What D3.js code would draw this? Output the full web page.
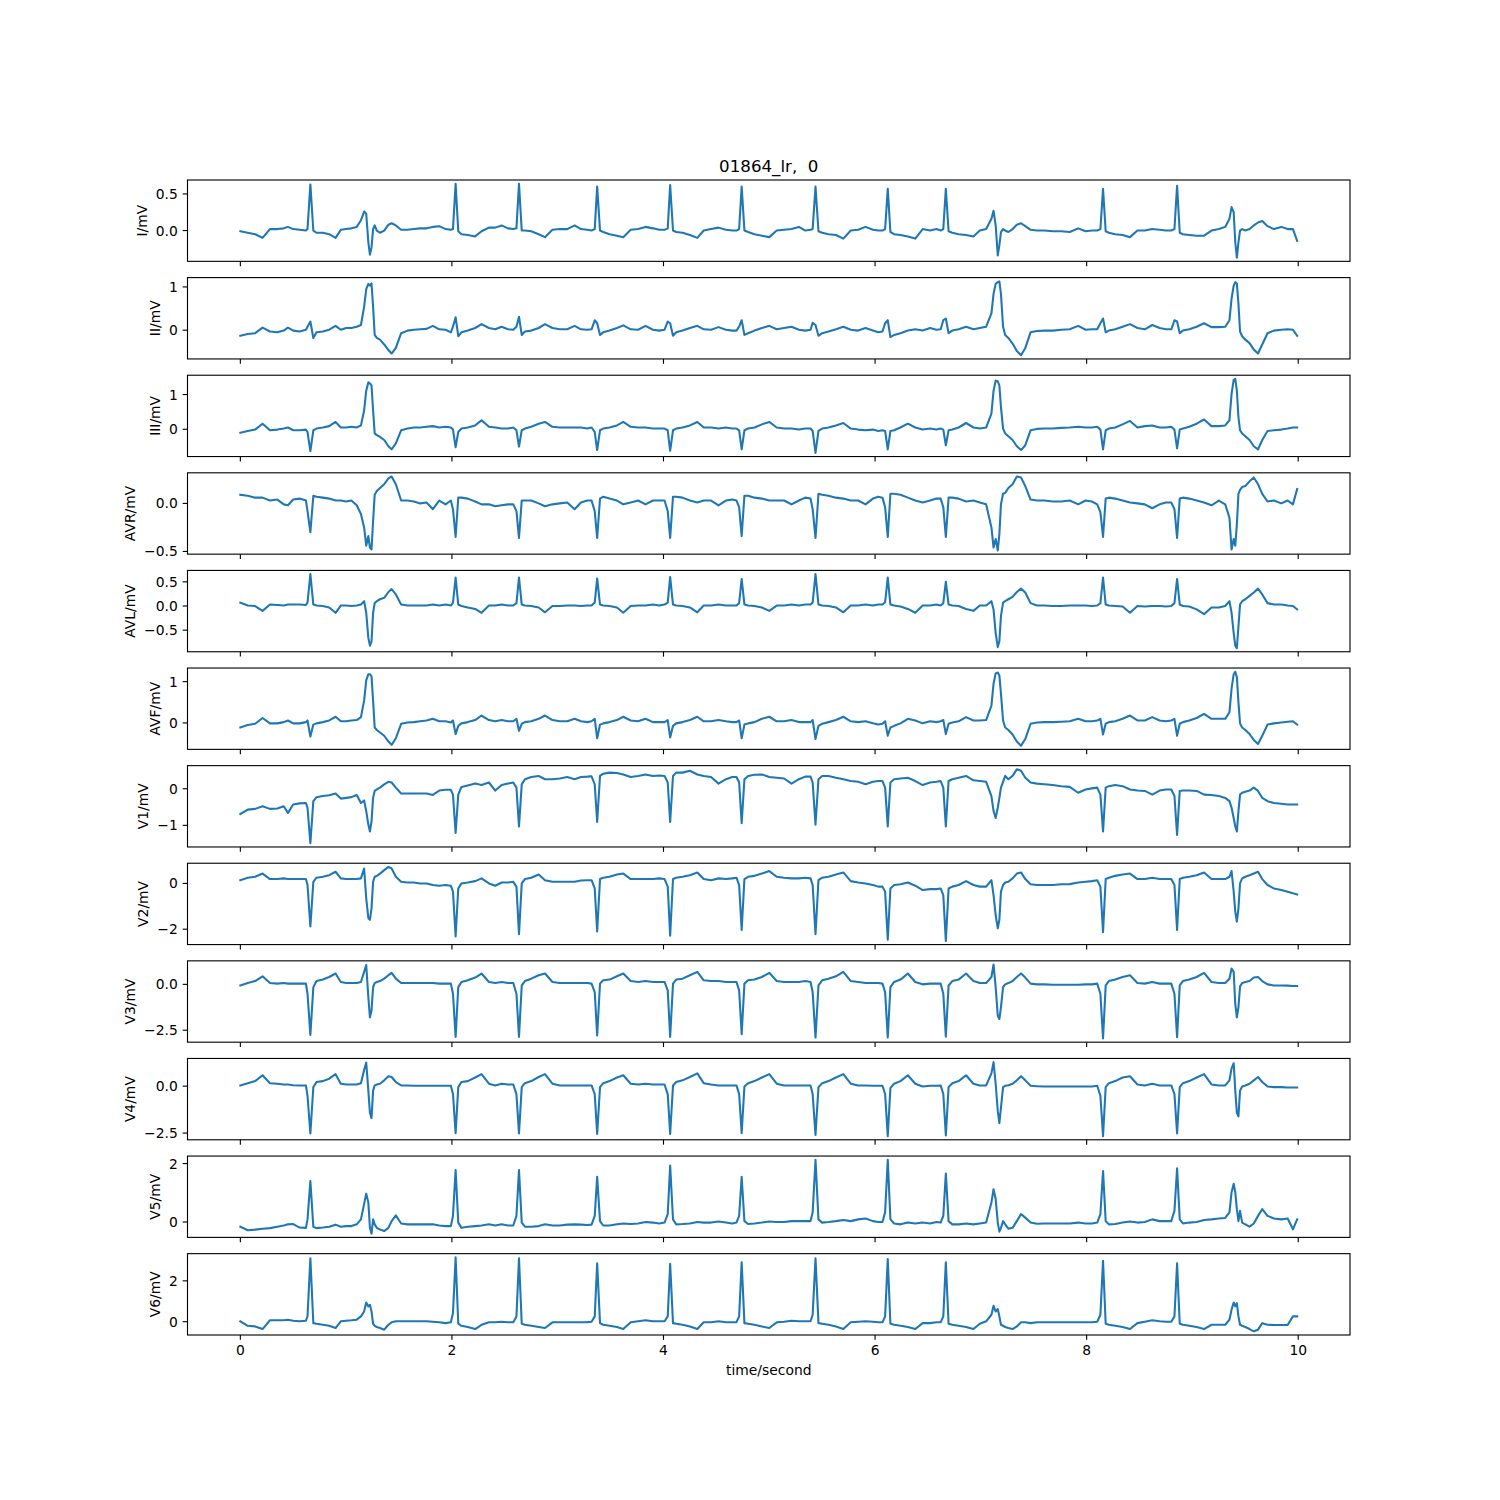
<!DOCTYPE html>
<html><head><meta charset="utf-8">
<script src="https://cdn.jsdelivr.net/npm/d3@7"></script>
<style>body{margin:0;background:#fff}svg{display:block}</style>
</head><body>
<svg id="chart" width="1500" height="1500"></svg>
<script>
// ---------- data (seconds / mV) ----------
const time = [
0.00,0.07,0.14,0.21,0.28,0.35,0.41,0.45,0.50,0.56,0.62,
0.635,0.662,0.69,0.72,
0.78,0.84,0.90,0.95,1.00,1.05,1.10,1.14,1.17,
1.19,1.21,1.225,1.24,1.255,1.27,1.29,1.32,1.36,1.40,1.43,1.47,1.52,
1.58,1.64,1.70,1.76,1.82,1.88,1.94,1.99,
2.01,2.035,2.06,2.09,
2.15,2.22,2.28,2.35,2.41,2.47,2.53,2.58,
2.61,2.634,2.66,2.69,
2.75,2.82,2.88,2.95,3.02,3.09,3.16,3.22,3.28,3.32,
3.35,3.373,3.40,3.43,
3.49,3.56,3.62,3.69,3.76,3.83,3.90,3.96,4.01,
4.04,4.063,4.09,4.12,
4.18,4.25,4.32,4.38,4.45,4.52,4.59,4.65,4.69,
4.715,4.739,4.765,4.80,
4.86,4.93,5.00,5.07,5.14,5.21,5.28,5.34,5.39,
5.41,5.437,5.465,5.50,
5.56,5.63,5.70,5.77,5.84,5.91,5.98,6.03,6.07,
6.095,6.12,6.145,6.18,
6.24,6.31,6.38,6.45,6.52,6.58,6.62,
6.645,6.669,6.695,6.73,
6.79,6.86,6.93,6.99,7.05,7.10,
7.12,7.14,7.16,7.175,7.19,7.21,7.23,7.26,7.30,7.34,7.38,7.42,7.47,
7.53,7.60,7.68,7.76,7.84,7.92,7.99,8.05,8.10,
8.13,8.155,8.18,8.21,
8.27,8.34,8.41,8.48,8.55,8.62,8.69,8.75,8.80,
8.83,8.855,8.88,8.91,
8.97,9.04,9.11,9.18,9.25,9.31,9.35,
9.37,9.39,9.405,9.42,9.435,9.45,9.47,9.50,9.54,9.58,9.62,9.66,9.71,
9.77,9.84,9.90,9.95,9.99
];

const leadI = [
-0.01,-0.03,-0.05,-0.10,0.02,0.02,0.03,0.05,0.02,0.01,0.00,
0.02,0.63,0.00,-0.03,
-0.03,-0.05,-0.10,0.01,0.02,0.03,0.05,0.14,0.26,
0.23,-0.16,-0.33,-0.23,0.02,0.07,0.00,-0.03,0.00,0.08,0.10,0.07,0.01,
0.01,0.02,0.03,0.03,0.05,0.06,0.02,0.01,
0.02,0.64,-0.01,-0.05,
-0.06,-0.08,-0.01,0.04,0.04,0.07,0.03,0.02,
0.03,0.64,0.00,0.00,
-0.01,-0.05,-0.09,0.01,0.02,0.02,0.07,0.02,0.01,0.00,
0.02,0.60,0.00,-0.02,
-0.05,-0.07,-0.09,0.01,0.02,0.05,0.03,0.01,0.01,
0.03,0.62,0.00,-0.02,
-0.03,-0.06,-0.10,0.00,0.02,0.04,0.01,0.00,0.00,
0.02,0.60,0.00,-0.02,
-0.05,-0.07,-0.09,0.00,0.01,0.02,0.05,0.00,0.01,
0.02,0.60,-0.01,-0.03,
-0.05,-0.06,-0.11,0.00,0.01,0.05,0.01,0.00,0.00,
0.02,0.57,-0.02,-0.05,
-0.06,-0.08,-0.11,0.02,0.00,0.02,0.00,
0.02,0.57,-0.01,-0.03,
-0.05,-0.06,-0.08,0.00,0.02,0.16,
0.27,0.07,-0.34,-0.20,-0.02,0.02,0.00,-0.02,0.02,0.08,0.10,0.06,0.01,
0.00,0.00,-0.01,-0.01,-0.02,0.03,-0.01,0.00,0.00,
0.02,0.57,-0.01,-0.03,
-0.05,-0.06,-0.09,0.00,0.00,0.02,0.01,0.00,0.00,
0.02,0.61,-0.03,-0.05,
-0.06,-0.07,-0.07,0.00,0.02,0.05,0.16,
0.32,0.25,-0.16,-0.37,-0.16,0.00,0.02,0.00,0.02,0.07,0.11,0.13,0.06,
0.02,0.05,0.02,0.02,-0.14
];

const leadII = [
-0.13,-0.09,-0.07,0.06,-0.03,-0.05,-0.01,0.06,-0.01,-0.03,0.01,
0.08,0.20,-0.18,-0.05,
-0.03,0.01,0.10,0.01,0.05,0.05,0.08,0.12,0.54,
0.95,1.07,1.03,1.08,0.54,-0.11,-0.18,-0.22,-0.33,-0.46,-0.54,-0.41,-0.07,
-0.01,0.01,0.02,0.03,0.10,0.02,0.01,-0.05,
0.08,0.30,-0.14,-0.05,
-0.01,0.05,0.14,0.05,0.02,0.08,0.02,0.01,
0.08,0.31,-0.11,-0.03,
-0.01,0.05,0.14,0.05,0.02,0.02,0.10,0.02,0.01,0.02,
0.23,0.16,-0.11,-0.05,
-0.01,0.05,0.11,0.02,0.01,0.10,0.01,-0.01,0.01,
0.20,0.16,-0.13,-0.05,
-0.01,0.05,0.10,0.02,0.01,0.07,0.01,-0.01,-0.01,
0.08,0.23,-0.11,-0.07,
-0.01,0.05,0.10,0.02,0.05,0.08,0.01,-0.01,0.01,
0.17,0.12,-0.13,-0.07,
-0.03,0.02,0.08,0.01,-0.01,0.05,-0.01,-0.05,-0.03,
0.16,0.23,-0.16,-0.11,
-0.07,-0.01,0.02,-0.01,0.05,0.01,0.02,
0.23,0.27,-0.07,-0.01,
0.02,0.08,0.02,0.05,0.08,0.39,
0.84,1.07,1.11,1.13,0.84,0.08,-0.11,-0.18,-0.31,-0.48,-0.58,-0.41,-0.05,
-0.02,-0.01,-0.01,0.01,0.02,0.10,0.01,0.02,0.02,
0.16,0.27,-0.05,-0.01,
0.02,0.08,0.14,0.05,0.02,0.12,0.05,0.02,0.02,
0.23,0.20,-0.07,-0.01,
0.02,0.08,0.16,0.07,0.07,0.08,0.23,
0.73,1.03,1.11,1.08,0.61,-0.03,-0.14,-0.22,-0.30,-0.45,-0.54,-0.33,-0.07,
-0.01,0.01,0.02,0.01,-0.13
];

const leadIII = [
-0.10,-0.05,-0.01,0.16,-0.03,-0.01,0.02,0.05,-0.03,-0.03,-0.01,
-0.08,-0.63,-0.03,0.02,
0.05,0.09,0.21,0.05,0.05,0.07,0.05,0.11,0.54,
1.11,1.35,1.32,1.26,0.54,-0.12,-0.17,-0.22,-0.31,-0.49,-0.58,-0.41,-0.03,
0.02,0.05,0.05,0.07,0.09,0.05,0.07,0.05,
-0.01,-0.52,-0.08,0.02,
0.05,0.11,0.26,0.07,0.05,0.02,0.02,0.05,
-0.03,-0.50,-0.03,0.02,
0.07,0.16,0.21,0.07,0.05,0.05,0.05,0.05,0.02,0.05,
-0.08,-0.60,-0.03,0.02,
0.05,0.11,0.21,0.07,0.05,0.05,0.02,0.02,0.02,
-0.03,-0.62,-0.03,0.02,
0.05,0.11,0.21,0.05,0.05,0.02,0.05,0.02,0.02,
-0.03,-0.58,-0.03,0.02,
0.05,0.14,0.21,0.05,0.02,0.02,-0.01,0.02,0.02,
-0.05,-0.68,-0.05,0.02,
0.05,0.11,0.18,0.02,-0.01,-0.03,-0.01,-0.05,-0.03,
-0.05,-0.58,-0.05,-0.03,
0.05,0.16,0.05,-0.01,0.02,-0.01,0.02,
-0.01,-0.46,-0.03,-0.01,
0.05,0.18,0.05,0.02,0.05,0.45,
1.11,1.40,1.38,1.26,0.64,0.02,-0.12,-0.20,-0.31,-0.49,-0.60,-0.46,-0.03,
0.01,0.02,0.02,0.04,0.05,0.07,0.05,0.05,0.07,
-0.01,-0.58,-0.03,0.02,
0.05,0.14,0.24,0.05,0.09,0.11,0.05,0.05,0.07,
-0.01,-0.55,-0.01,0.02,
0.07,0.16,0.28,0.09,0.09,0.11,0.26,
1.02,1.42,1.45,1.11,0.35,-0.03,-0.12,-0.20,-0.31,-0.49,-0.58,-0.31,-0.05,
-0.03,-0.01,0.02,0.05,0.05
];

const leadAVR = [
0.09,0.08,0.06,0.06,0.03,0.04,-0.01,-0.02,0.04,0.05,0.03,
-0.08,-0.30,0.08,0.07,
0.06,0.05,0.03,0.03,0.02,0.03,-0.02,-0.11,-0.25,
-0.44,-0.34,-0.46,-0.48,-0.18,0.09,0.13,0.16,0.20,0.26,0.28,0.20,0.03,
0.03,0.02,0.00,0.01,-0.06,0.03,-0.01,0.03,
-0.06,-0.35,0.06,0.06,
0.05,0.02,-0.01,-0.01,-0.03,-0.02,-0.01,-0.01,
-0.08,-0.36,0.03,0.03,
0.03,0.00,-0.03,-0.01,0.00,0.01,-0.06,0.01,0.03,0.03,
-0.08,-0.36,0.05,0.07,
0.05,0.03,-0.01,0.01,0.03,-0.01,0.03,0.03,0.03,
-0.08,-0.36,0.07,0.07,
0.06,0.03,0.01,0.03,0.03,-0.02,0.03,0.04,0.03,
-0.04,-0.34,0.08,0.08,
0.06,0.05,0.03,0.03,0.03,-0.01,0.03,0.06,0.05,
-0.06,-0.36,0.10,0.09,
0.08,0.06,0.05,0.03,0.03,-0.01,0.05,0.07,0.06,
-0.04,-0.35,0.10,0.10,
0.09,0.06,0.03,0.01,0.03,0.05,0.05,
-0.04,-0.35,0.06,0.06,
0.05,0.02,0.03,0.01,-0.01,-0.25,
-0.46,-0.37,-0.49,-0.32,-0.01,0.10,0.11,0.16,0.20,0.28,0.27,0.18,0.04,
0.03,0.03,0.02,0.02,0.03,-0.01,0.03,0.02,-0.01,
-0.09,-0.35,0.05,0.06,
0.05,0.03,0.01,0.00,-0.01,-0.05,-0.01,0.01,0.01,
-0.06,-0.36,0.05,0.06,
0.05,0.03,0.01,-0.02,0.03,-0.01,-0.15,
-0.48,-0.37,-0.44,-0.22,0.10,0.14,0.17,0.18,0.23,0.27,0.20,0.10,0.02,
0.03,0.00,0.03,-0.01,0.15
];

const leadAVL = [
0.07,0.01,0.00,-0.10,0.03,0.02,0.01,0.03,0.03,0.03,0.02,
0.07,0.66,0.03,0.01,
0.00,-0.03,-0.14,0.01,0.01,0.00,0.01,0.03,0.10,
-0.14,-0.66,-0.82,-0.73,-0.14,0.06,0.10,0.14,0.17,0.29,0.35,0.24,0.03,
0.01,0.01,0.01,0.01,0.03,0.01,0.03,0.01,
0.07,0.59,0.03,0.00,
-0.03,-0.06,-0.14,0.01,0.01,0.03,0.01,0.01,
0.06,0.59,0.03,0.01,
0.00,-0.03,-0.13,0.00,0.00,0.01,0.01,0.00,0.01,0.01,
0.07,0.57,0.03,0.01,
0.00,-0.03,-0.14,0.00,0.01,0.01,0.03,0.01,0.03,
0.07,0.60,0.03,0.01,
0.00,-0.03,-0.13,0.01,0.01,0.03,0.01,0.01,0.01,
0.06,0.56,0.03,0.01,
0.00,-0.03,-0.10,0.01,0.01,0.03,0.01,0.03,0.03,
0.07,0.66,0.03,0.01,
0.00,-0.03,-0.13,0.01,0.01,0.03,0.01,0.03,0.03,
0.08,0.59,0.03,0.01,
-0.01,-0.06,-0.14,0.01,0.01,0.03,0.01,
0.06,0.50,0.03,0.01,
0.00,-0.06,-0.10,0.01,0.01,0.10,
-0.07,-0.56,-0.85,-0.73,-0.21,0.07,0.10,0.14,0.19,0.29,0.36,0.28,0.06,
0.01,0.01,0.00,0.00,0.01,0.01,0.01,0.00,0.01,
0.06,0.59,0.03,0.01,
0.00,-0.01,-0.14,0.00,-0.01,0.00,0.00,-0.01,0.00,
0.06,0.56,0.03,0.00,
-0.01,-0.07,-0.17,-0.03,-0.03,0.00,0.10,
-0.14,-0.56,-0.82,-0.87,-0.42,0.03,0.10,0.14,0.21,0.28,0.36,0.24,0.06,
0.03,0.03,0.01,0.00,-0.07
];

const leadAVF = [
-0.11,-0.05,-0.02,0.12,-0.01,-0.01,0.02,0.06,-0.01,-0.01,0.02,
0.06,-0.33,-0.04,-0.01,
0.02,0.06,0.15,0.04,0.04,0.06,0.07,0.14,0.54,
1.03,1.18,1.18,1.13,0.54,-0.11,-0.17,-0.23,-0.31,-0.45,-0.53,-0.37,-0.02,
0.01,0.02,0.04,0.06,0.10,0.04,0.04,0.01,
0.06,-0.27,-0.07,-0.01,
0.02,0.07,0.18,0.07,0.04,0.07,0.04,0.04,
0.10,-0.19,-0.02,0.02,
0.04,0.10,0.18,0.07,0.04,0.04,0.10,0.04,0.02,0.04,
0.10,-0.37,-0.04,-0.01,
0.02,0.07,0.15,0.06,0.04,0.10,0.02,0.02,0.02,
0.07,-0.35,-0.07,-0.01,
0.02,0.07,0.15,0.04,0.04,0.07,0.04,0.02,0.02,
0.06,-0.37,-0.04,-0.01,
0.02,0.10,0.15,0.04,0.04,0.07,0.02,0.02,0.02,
0.07,-0.39,-0.07,-0.02,
0.02,0.07,0.15,0.04,0.02,0.04,-0.01,-0.04,-0.02,
0.04,-0.31,-0.11,-0.07,
-0.01,0.10,0.06,-0.01,0.04,0.02,0.04,
0.07,-0.27,-0.02,0.01,
0.04,0.14,0.06,0.06,0.07,0.42,
0.95,1.20,1.22,1.15,0.71,0.06,-0.11,-0.17,-0.28,-0.45,-0.55,-0.39,-0.02,
0.01,0.02,0.02,0.03,0.04,0.10,0.04,0.04,0.06,
0.10,-0.28,-0.02,0.02,
0.04,0.10,0.18,0.06,0.06,0.14,0.06,0.04,0.06,
0.10,-0.31,-0.02,0.02,
0.06,0.12,0.22,0.10,0.10,0.10,0.26,
0.83,1.18,1.24,1.11,0.50,-0.01,-0.11,-0.17,-0.27,-0.41,-0.51,-0.31,-0.04,
-0.01,0.01,0.03,0.04,-0.04
];

const leadV1 = [
-0.69,-0.57,-0.55,-0.48,-0.55,-0.54,-0.48,-0.66,-0.43,-0.40,-0.39,
-0.52,-1.49,-0.34,-0.23,
-0.20,-0.18,-0.13,-0.27,-0.25,-0.23,-0.17,-0.39,-0.32,
-0.61,-0.98,-1.17,-0.89,-0.25,-0.06,-0.02,0.03,0.12,0.19,0.17,0.03,-0.13,
-0.13,-0.13,-0.13,-0.13,-0.17,-0.05,-0.03,-0.03,
-0.16,-1.21,-0.16,0.05,
0.09,0.14,0.10,0.17,-0.05,0.10,0.14,0.17,
0.03,-1.03,0.12,0.26,
0.32,0.35,0.26,0.26,0.28,0.32,0.26,0.32,0.33,0.34,
0.12,-0.91,0.35,0.41,
0.44,0.43,0.39,0.32,0.35,0.39,0.35,0.36,0.35,
0.17,-0.91,0.35,0.44,
0.44,0.49,0.39,0.35,0.32,0.14,0.26,0.32,0.32,
0.17,-0.94,0.26,0.35,
0.38,0.39,0.32,0.30,0.28,0.14,0.26,0.33,0.33,
0.17,-0.98,0.26,0.35,
0.35,0.30,0.26,0.21,0.19,0.12,0.19,0.21,0.21,
0.03,-1.03,0.17,0.26,
0.28,0.30,0.21,0.10,0.17,0.19,0.21,
0.03,-1.03,0.21,0.26,
0.30,0.35,0.23,0.21,0.19,-0.20,
-0.61,-0.80,-0.52,-0.25,0.03,0.19,0.35,0.26,0.35,0.53,0.49,0.30,0.17,
0.14,0.12,0.10,0.07,0.05,-0.11,-0.02,0.01,0.03,
-0.16,-1.17,0.03,0.07,
0.10,0.07,-0.02,-0.05,-0.06,-0.16,-0.05,-0.02,-0.02,
-0.20,-1.26,-0.06,-0.05,
-0.05,-0.06,-0.16,-0.17,-0.20,-0.25,-0.34,
-0.52,-0.80,-1.03,-1.17,-0.61,-0.16,-0.11,-0.08,-0.05,0.03,-0.06,-0.25,-0.34,
-0.39,-0.41,-0.43,-0.43,-0.43
];

const leadV2 = [
0.14,0.25,0.29,0.43,0.19,0.19,0.22,0.19,0.19,0.19,0.19,
-0.07,-1.88,0.07,0.25,
0.29,0.36,0.51,0.22,0.19,0.19,0.19,0.22,0.65,
-0.65,-1.52,-1.59,-1.09,0.07,0.29,0.33,0.43,0.58,0.72,0.65,0.29,0.07,
0.04,0.04,0.00,0.00,-0.07,-0.10,-0.07,-0.10,
-0.36,-2.32,-0.22,0.00,
0.04,0.10,0.22,0.00,-0.10,0.04,0.04,0.07,
-0.14,-2.22,0.00,0.19,
0.25,0.39,0.14,0.07,0.07,0.07,0.07,0.13,0.14,0.14,
-0.22,-2.10,0.19,0.25,
0.29,0.39,0.43,0.19,0.19,0.19,0.19,0.22,0.19,
-0.14,-2.28,0.19,0.25,
0.29,0.36,0.48,0.19,0.14,0.22,0.19,0.22,0.25,
-0.07,-2.03,0.19,0.29,
0.33,0.43,0.54,0.29,0.25,0.22,0.22,0.25,0.22,
-0.07,-2.22,0.14,0.25,
0.29,0.39,0.48,0.10,0.04,0.00,-0.07,-0.14,-0.14,
-0.36,-2.46,-0.22,-0.07,
-0.04,0.04,-0.10,-0.29,-0.25,-0.25,-0.22,
-0.51,-2.51,-0.22,-0.14,
-0.07,0.10,-0.07,-0.14,-0.14,0.14,
-0.51,-1.38,-1.96,-1.59,-0.36,-0.07,0.04,0.07,0.22,0.43,0.48,0.19,-0.04,
-0.07,-0.07,-0.07,-0.04,-0.03,0.04,0.07,0.10,0.14,
-0.14,-2.13,0.19,0.25,
0.33,0.39,0.43,0.19,0.19,0.25,0.19,0.19,0.19,
-0.07,-2.03,0.19,0.25,
0.29,0.36,0.48,0.19,0.19,0.19,0.29,
0.54,-0.36,-1.23,-1.67,-1.09,0.00,0.22,0.29,0.36,0.43,0.51,0.19,-0.07,
-0.22,-0.29,-0.36,-0.43,-0.48
];

const leadV3 = [
-0.06,0.07,0.18,0.44,0.07,0.04,0.07,0.04,0.04,0.04,0.04,
-0.51,-2.76,-0.15,0.18,
0.26,0.40,0.59,0.13,0.07,0.07,0.07,0.13,0.68,
1.05,-0.70,-1.80,-1.43,-0.15,0.07,0.13,0.18,0.31,0.50,0.63,0.31,0.07,
0.07,0.07,0.07,0.07,0.07,0.04,0.04,0.04,
-0.51,-2.86,-0.15,0.13,
0.22,0.37,0.59,0.13,0.07,0.13,0.07,0.07,
-0.51,-2.86,-0.06,0.18,
0.31,0.50,0.59,0.13,0.07,0.07,0.07,0.07,0.07,0.04,
-0.42,-2.78,0.04,0.22,
0.26,0.44,0.59,0.18,0.13,0.18,0.13,0.13,0.13,
-0.33,-2.86,0.04,0.26,
0.31,0.50,0.68,0.22,0.18,0.18,0.13,0.13,0.13,
-0.33,-2.72,0.04,0.22,
0.26,0.40,0.63,0.18,0.13,0.13,0.13,0.18,0.13,
-0.42,-2.90,-0.06,0.22,
0.31,0.44,0.68,0.18,0.13,0.07,0.07,0.07,0.04,
-0.42,-2.90,-0.15,0.13,
0.26,0.59,0.13,0.00,0.04,0.04,0.04,
-0.51,-2.85,-0.06,0.18,
0.26,0.59,0.18,0.07,0.07,0.40,
1.08,-0.15,-1.71,-1.89,-1.25,-0.15,0.00,0.07,0.18,0.40,0.59,0.37,0.04,
0.00,0.00,-0.02,-0.02,-0.02,-0.02,0.00,0.00,0.04,
-0.51,-2.95,-0.06,0.18,
0.26,0.40,0.50,0.07,0.04,0.13,0.04,0.04,0.04,
-0.51,-2.88,-0.06,0.18,
0.26,0.40,0.63,0.13,0.07,0.07,0.31,
0.86,0.68,-1.07,-1.80,-1.25,-0.11,0.07,0.13,0.18,0.37,0.40,0.18,0.00,
-0.06,-0.06,-0.07,-0.09,-0.09
];

const leadV4 = [
0.04,0.16,0.27,0.58,0.16,0.13,0.09,0.09,0.05,0.04,0.04,
-0.51,-2.52,-0.05,0.22,
0.27,0.40,0.64,0.13,0.09,0.09,0.09,0.16,0.86,
1.26,-0.24,-1.42,-1.70,-0.24,0.04,0.09,0.13,0.31,0.53,0.49,0.22,0.04,
0.04,0.02,0.02,0.02,0.02,0.02,0.02,0.02,
-0.42,-2.50,-0.05,0.22,
0.27,0.46,0.64,0.13,0.04,0.13,0.09,0.09,
-0.42,-2.52,-0.05,0.16,
0.27,0.49,0.64,0.13,0.04,0.04,0.04,0.04,0.04,0.04,
-0.42,-2.55,-0.05,0.16,
0.27,0.46,0.58,0.13,0.09,0.13,0.09,0.09,0.09,
-0.42,-2.55,0.04,0.22,
0.31,0.49,0.68,0.16,0.09,0.04,0.04,0.04,0.04,
-0.42,-2.50,-0.02,0.16,
0.27,0.46,0.64,0.13,0.04,0.04,0.04,0.04,0.04,
-0.42,-2.60,-0.05,0.16,
0.27,0.46,0.64,0.13,0.04,0.04,0.02,0.02,0.02,
-0.42,-2.66,-0.09,0.13,
0.27,0.58,0.13,-0.02,0.02,0.02,0.04,
-0.42,-2.62,-0.05,0.16,
0.27,0.58,0.13,0.04,0.04,0.68,
1.28,0.13,-1.33,-1.97,-1.15,-0.05,0.02,0.05,0.13,0.31,0.53,0.31,0.02,
0.00,-0.02,-0.02,-0.02,-0.02,-0.02,-0.02,-0.02,0.02,
-0.51,-2.66,-0.05,0.16,
0.27,0.46,0.53,0.09,0.04,0.13,0.04,0.04,0.04,
-0.42,-2.52,-0.05,0.16,
0.27,0.46,0.64,0.09,0.04,0.04,0.31,
0.95,1.22,-0.24,-1.42,-1.61,-0.24,-0.02,0.04,0.13,0.31,0.49,0.22,-0.02,
-0.05,-0.05,-0.07,-0.07,-0.07
];

const leadV5 = [
-0.16,-0.28,-0.26,-0.23,-0.21,-0.16,-0.12,-0.08,-0.07,-0.19,-0.20,
0.09,1.40,-0.16,-0.21,
-0.19,-0.16,-0.09,-0.16,-0.14,-0.14,-0.08,0.09,0.62,
0.97,0.67,-0.20,-0.40,0.09,-0.08,-0.20,-0.26,-0.31,-0.20,0.03,0.23,-0.05,
-0.08,-0.08,-0.08,-0.08,-0.08,-0.12,-0.14,-0.14,
0.21,1.78,-0.02,-0.20,
-0.16,-0.14,-0.12,-0.08,-0.12,-0.08,-0.12,-0.12,
0.21,1.78,-0.02,-0.16,
-0.16,-0.14,-0.08,-0.12,-0.12,-0.09,-0.08,-0.09,-0.10,-0.09,
0.21,1.55,0.03,-0.12,
-0.12,-0.08,-0.05,-0.07,-0.05,0.00,-0.02,-0.05,-0.02,
0.27,1.93,0.09,-0.08,
-0.07,-0.05,0.00,-0.02,-0.02,0.02,-0.02,-0.05,-0.02,
0.21,1.55,0.03,-0.07,
-0.05,-0.02,0.02,0.00,0.00,0.03,0.03,0.03,0.03,
0.33,2.13,0.09,-0.02,
0.00,0.03,0.07,0.03,0.09,0.12,0.03,0.00,0.00,
0.33,2.13,0.09,-0.05,
-0.08,-0.02,-0.05,-0.02,-0.05,0.00,-0.02,
0.21,1.66,0.03,-0.08,
-0.08,-0.05,-0.08,-0.05,-0.02,0.67,
1.12,0.79,-0.02,-0.33,-0.20,0.03,-0.08,-0.23,-0.20,0.03,0.27,0.15,-0.02,
-0.06,-0.05,-0.05,-0.05,-0.05,-0.02,-0.05,-0.05,-0.02,
0.27,1.74,0.03,-0.08,
-0.07,-0.02,0.02,-0.02,0.00,0.09,0.03,0.03,0.03,
0.38,1.84,0.09,-0.05,
-0.02,0.00,0.07,0.09,0.12,0.14,0.33,
1.02,1.31,1.02,0.44,0.03,0.38,-0.02,-0.08,-0.16,-0.05,0.21,0.44,0.21,
0.12,0.09,0.12,-0.25,0.09
];

const leadV6 = [
0.02,-0.20,-0.23,-0.36,0.07,0.07,0.07,0.10,0.05,0.02,0.05,
0.26,3.11,-0.07,-0.10,
-0.15,-0.20,-0.31,0.02,0.05,0.07,0.10,0.26,0.50,
0.94,0.75,0.83,0.50,-0.10,-0.20,-0.26,-0.31,-0.39,-0.15,-0.03,0.02,0.02,
0.02,0.02,0.02,0.02,0.00,-0.03,-0.07,-0.03,
0.42,3.15,-0.10,-0.20,
-0.26,-0.36,-0.15,-0.03,-0.03,0.00,-0.03,-0.03,
0.26,3.11,-0.10,-0.15,
-0.20,-0.26,-0.31,-0.03,-0.03,-0.03,-0.03,-0.03,-0.02,0.00,
0.26,2.86,-0.07,-0.15,
-0.20,-0.26,-0.36,-0.03,0.02,0.07,0.02,0.02,0.02,
0.26,2.83,-0.07,-0.10,
-0.15,-0.23,-0.36,-0.03,-0.03,0.02,-0.03,-0.03,-0.02,
0.26,2.91,-0.07,-0.10,
-0.15,-0.23,-0.31,-0.03,0.00,0.05,0.02,0.02,0.02,
0.34,3.11,-0.07,-0.10,
-0.15,-0.23,-0.36,-0.03,0.00,0.02,0.00,-0.03,-0.03,
0.26,3.07,-0.10,-0.15,
-0.20,-0.26,-0.36,-0.07,-0.07,-0.03,-0.03,
0.26,2.91,-0.10,-0.15,
-0.20,-0.26,-0.36,-0.10,0.02,0.34,
0.78,0.50,0.62,0.26,-0.15,-0.20,-0.26,-0.31,-0.36,-0.23,-0.03,-0.03,-0.07,
-0.03,-0.03,-0.03,-0.03,-0.03,-0.03,-0.03,-0.03,0.00,
0.34,2.98,-0.10,-0.15,
-0.20,-0.26,-0.36,-0.07,0.00,0.07,0.02,0.00,0.00,
0.26,2.86,-0.10,-0.15,
-0.20,-0.26,-0.36,-0.15,-0.15,-0.15,0.10,
0.59,0.94,0.75,0.91,0.26,-0.15,-0.20,-0.26,-0.36,-0.47,-0.39,-0.07,-0.15,
-0.16,-0.16,-0.16,0.26,0.26
];

const leadNames = ["I","II","III","AVR","AVL","AVF","V1","V2","V3","V4","V5","V6"];
const ticksI = [0.0, 0.5];
const ticksII = [0, 1];
const ticksIII = [0, 1];
const ticksAVR = [-0.5, 0.0];
const ticksAVL = [-0.5, 0.0, 0.5];
const ticksAVF = [0, 1];
const ticksV1 = [-1, 0];
const ticksV2 = [-2, 0];
const ticksV3 = [-2.5, 0.0];
const ticksV4 = [-2.5, 0.0];
const ticksV5 = [0, 2];
const ticksV6 = [0, 2];
const xTicks = [0, 2, 4, 6, 8, 10];
const titleText = "01864_lr,  0";
const xLabelText = "time/second";

// ---------- drawing ----------
const leads = [leadI, leadII, leadIII, leadAVR, leadAVL, leadAVF, leadV1, leadV2, leadV3, leadV4, leadV5, leadV6];
const leadTicks = [ticksI, ticksII, ticksIII, ticksAVR, ticksAVL, ticksAVF, ticksV1, ticksV2, ticksV3, ticksV4, ticksV5, ticksV6];
leads.forEach((a, i) => { if (a.length !== time.length) console.error(leadNames[i], a.length, time.length); });

const W = 1500, H = 1500;
const L = 187.5, R = 1350, T = 180, B = 1335, n = 12;
const axH = (B - T) / (n + (n - 1) * 0.2), gap = axH * 0.2;
const FONT = "'DejaVu Sans', sans-serif";
const tickLen = 4.86, tickPad = 4.86, fs = 13.89;
const lineColor = "#1f77b4";

const svg = d3.select("#chart");
svg.append("rect").attr("width", W).attr("height", H).attr("fill", "#fff");

function padded(ext) { const r = ext[1] - ext[0]; return [ext[0] - 0.05 * r, ext[1] + 0.05 * r]; }
const x = d3.scaleLinear().domain(padded(d3.extent(time))).range([L, R]);

function fmtTicks(ticks) {
  const dec = ticks.some(v => !Number.isInteger(v)) ? 1 : 0;
  return d3.format("." + dec + "f");
}

leads.forEach((vals, i) => {
  const top = T + i * (axH + gap), bot = top + axH;
  const y = d3.scaleLinear().domain(padded(d3.extent(vals))).range([bot, top]);
  const g = svg.append("g");
  const pts = time.map((t, k) => [t, vals[k]]);
  g.append("path").datum(pts)
    .attr("d", d3.line().x(d => x(d[0])).y(d => y(d[1])))
    .attr("fill", "none").attr("stroke", lineColor).attr("stroke-width", 2.08)
    .attr("stroke-linejoin", "round").attr("stroke-linecap", "square");
  g.append("rect").attr("x", L).attr("y", top).attr("width", R - L).attr("height", axH)
    .attr("fill", "none").attr("stroke", "#000").attr("stroke-width", 1.11);
  // x ticks
  xTicks.forEach(v => {
    g.append("line").attr("x1", x(v)).attr("x2", x(v)).attr("y1", bot).attr("y2", bot + tickLen)
      .attr("stroke", "#000").attr("stroke-width", 1.11);
    if (i === n - 1) {
      g.append("text").attr("x", x(v)).attr("y", bot + tickLen + tickPad + 10.6)
        .attr("text-anchor", "middle").attr("font-family", FONT).attr("font-size", fs)
        .text(d3.format("d")(v));
    }
  });
  // y ticks
  const f = fmtTicks(leadTicks[i]);
  let minLeft = Infinity;
  leadTicks[i].forEach(v => {
    g.append("line").attr("x1", L - tickLen).attr("x2", L).attr("y1", y(v)).attr("y2", y(v))
      .attr("stroke", "#000").attr("stroke-width", 1.11);
    const tx = g.append("text").attr("x", L - tickLen - tickPad).attr("y", y(v) + 5.0)
      .attr("text-anchor", "end").attr("font-family", FONT).attr("font-size", fs)
      .text(f(v));
    const w = tx.node().getComputedTextLength();
    minLeft = Math.min(minLeft, L - tickLen - tickPad - w);
  });
  const lx = minLeft - 5.56 - 3.3;
  g.append("text").attr("transform", `translate(${lx},${(top + bot) / 2}) rotate(-90)`)
    .attr("text-anchor", "middle").attr("font-family", FONT).attr("font-size", fs)
    .text(leadNames[i] + "/mV");
});

svg.append("text").attr("x", (L + R) / 2).attr("y", T - 8.33)
  .attr("text-anchor", "middle").attr("font-family", FONT).attr("font-size", 16.67)
  .style("white-space", "pre").text(titleText);
svg.append("text").attr("x", (L + R) / 2).attr("y", B + tickLen + tickPad + 13.9 + 5.56 + 10.6)
  .attr("text-anchor", "middle").attr("font-family", FONT).attr("font-size", fs)
  .text(xLabelText);
</script>
</body></html>
